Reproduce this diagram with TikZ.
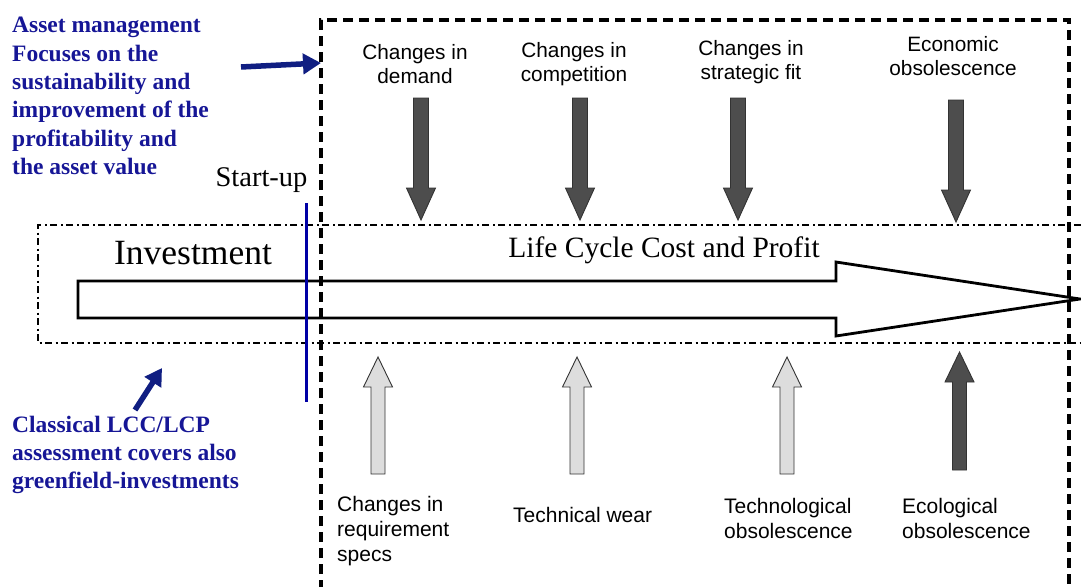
\documentclass[tikz,border=0pt]{standalone}
\usepackage{fontspec}
\setmainfont{Liberation Serif}
\setsansfont{Liberation Sans}
\usetikzlibrary{arrows.meta}
\definecolor{bluetext}{RGB}{22,22,150}
\definecolor{bluearrow}{RGB}{16,30,130}
\definecolor{blueline}{RGB}{0,0,165}
\definecolor{darkfill}{RGB}{77,77,77}
\definecolor{lightfill}{RGB}{221,221,221}
\tikzset{
  dashbox/.style={line width=3.2pt, dash pattern=on 10pt off 6pt},
  dotbox/.style={line width=2.2pt, dash pattern=on 7pt off 3.5pt on 2pt off 3.5pt},
  bigarrow/.style={line width=2.8pt, line join=miter},
  blockarr/.style={draw=black!80, line width=0.9pt},
  toplabel/.style={inner sep=0pt, align=center, font=\sffamily\fontsize{20.8}{24.5}\selectfont},
  botlabel/.style={inner sep=0pt, align=left, anchor=west, font=\sffamily\fontsize{21}{25}\selectfont},
  bluenote/.style={inner sep=0pt, align=left, anchor=west, text=bluetext, font=\bfseries\fontsize{23.5}{28.4}\selectfont},
  bluearr/.style={draw=bluearrow, line width=5.5pt, -{Triangle[length=18pt,width=20pt]}},
}
\newcommand\gdownarr[2]{% center x, fill
  \filldraw[blockarr, fill=#2] (#1-7.5,98) -- (#1+7.5,98) -- (#1+7.5,188) -- (#1+14.5,188) -- (#1,220) -- (#1-14.5,188) -- (#1-7.5,188) -- cycle;}
\newcommand\gupagr[5]{% center x, tip y, head base y, bottom y, fill
  \filldraw[blockarr, fill=#5] (#1-7,#4) -- (#1+7,#4) -- (#1+7,#3) -- (#1+14.5,#3) -- (#1,#2) -- (#1-14.5,#3) -- (#1-7,#3) -- cycle;}
\begin{document}
\begin{tikzpicture}[x=1pt,y=-1pt]
\useasboundingbox (0,0) rectangle (1081,586);
% dash-dot band
\draw[dotbox] (1081,225) -- (38,225) -- (38,343) -- (1081,343);
% dashed box
\draw[dashbox] (321,590) -- (321,20) -- (1069,20) -- (1069,590);
% big arrow
\draw[bigarrow] (78,281) -- (836,281) -- (836,262) -- (1080,299) -- (836,336) -- (836,318) -- (78,318) -- cycle;
% start-up line
\draw[blueline, line width=3pt] (306,203) -- (306,402);
% down arrows
\gdownarr{421}{darkfill}
\gdownarr{580}{darkfill}
\gdownarr{738}{darkfill}
\begin{scope}[yshift=-2pt]\gdownarr{956}{darkfill}\end{scope}
% up arrows
\gupagr{378}{357}{387}{474}{lightfill}
\gupagr{577}{357}{387}{474}{lightfill}
\gupagr{787}{357}{387}{474}{lightfill}
\gupagr{959.5}{352}{382}{470}{darkfill}
% texts
\node[toplabel] (demand) at (415,64) {Changes in\\demand};
\node[toplabel] (competition) at (574,64) {Changes in\\competition};
\node[toplabel] (strategic) at (751,62) {Changes in\\strategic fit};
\node[toplabel] (economic) at (953,56) {Economic\\obsolescence};
\node[botlabel] (requirement) at (337,531) {Changes in\\requirement\\specs};
\node[botlabel] (wear) at (513,515) {Technical wear};
\node[botlabel] (technological) at (724,518) {Technological\\obsolescence};
\node[botlabel] (ecological) at (902,518) {Ecological\\obsolescence};
\node[inner sep=0pt, font=\fontsize{28.5}{31}\selectfont] (startup) at (261.5,180) {Start-up};
\node[inner sep=0pt, font=\fontsize{35.5}{40}\selectfont] (investment) at (193,253) {Investment};
\node[inner sep=0pt, font=\fontsize{29.5}{33}\selectfont] (lcc) at (664,250) {Life Cycle Cost and Profit};
\node[bluenote] (am) at (12,96) {Asset management\\Focuses on the\\sustainability and\\improvement of the\\profitability and\\the asset value};
\node[bluenote] (classical) at (12,455) {Classical LCC/LCP\\assessment covers also\\greenfield-investments};
% blue arrows
\coordinate (amtail) at (241,67);
\coordinate (amtip) at (321,63);
\coordinate (cltail) at (135,410);
\coordinate (cltip) at (162,368);
\draw[bluearr] (amtail) -- (amtip);
\draw[bluearr, -{Triangle[length=17pt,width=19pt]}] (cltail) -- (cltip);
\end{tikzpicture}
\end{document}
